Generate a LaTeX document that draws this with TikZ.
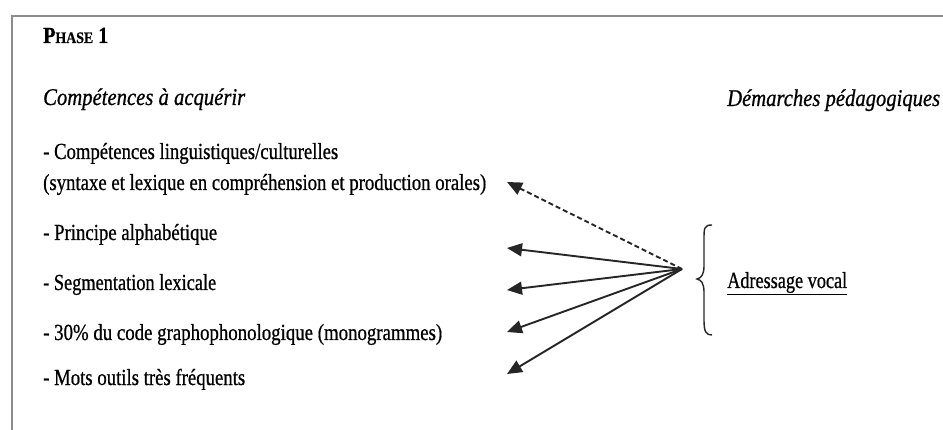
\documentclass[tikz,border=0pt]{standalone}
\usepackage{fontspec}
\usepackage{graphicx}
\setmainfont{Liberation Serif}[FakeBold=0.8]
\usetikzlibrary{arrows.meta}
\newcommand\fitw[2]{\resizebox{#1pt}{\height}{#2}}
\tikzset{
  txt/.style={anchor=base west, inner sep=0pt, font=\fontsize{23}{26}\selectfont},
  itxt/.style={txt, font=\fontsize{24}{28}\selectfont\itshape},
  arr/.style={-{Triangle[length=15pt,width=13pt]}, line width=1.9pt, black!85},
  frame/.style={draw=black!45, line width=1.8pt}
}
\begin{document}
\begin{tikzpicture}[x=1pt,y=-1pt]
\useasboundingbox (0,0) rectangle (943,430);
\draw[frame] (12,431) -- (12,16) -- (944,16);
\node[txt, font=\fontsize{23}{26}\selectfont\bfseries] (phase) at (43,43) {\fitw{65}{P{\fontsize{16}{18}\selectfont HASE} 1}};
\node[itxt] (comp) at (43,105) {\fitw{202}{Compétences à acquérir}};
\node[itxt] (dem) at (727,106) {\fitw{213}{Démarches pédagogiques}};
\node[txt] (l1) at (43,159) {\fitw{295}{- Compétences linguistiques/culturelles}};
\node[txt] (l1b) at (43,190) {\fitw{443}{(syntaxe et lexique en compréhension et production orales)}};
\node[txt] (l2) at (43,240) {\fitw{174}{- Principe alphabétique}};
\node[txt] (l3) at (43,290) {\fitw{173}{- Segmentation lexicale}};
\node[txt] (l4) at (43,340) {\fitw{399}{- 30\% du code graphophonologique (monogrammes)}};
\node[txt] (l5) at (43,385) {\fitw{202}{- Mots outils très fréquents}};
\coordinate (hub) at (682,269);
\coordinate (t0) at (507,182);
\coordinate (t1) at (507,248);
\coordinate (t2) at (507,290);
\coordinate (t3) at (507,332);
\coordinate (t4) at (507,374);
\draw[arr, dash pattern=on 5pt off 3pt] (hub) -- (t0);
\draw[arr] (hub) -- (t1);
\draw[arr] (hub) -- (t2);
\draw[arr] (hub) -- (t3);
\draw[arr] (hub) -- (t4);
\draw[line width=1.4pt, black!85] (712,225) .. controls (704,225) and (704,228) .. (704,240) -- (704,266) .. controls (704,275) and (701,278) .. (697,279) .. controls (701,280) and (704,283) .. (704,292) -- (704,320) .. controls (704,332) and (706,335) .. (712,335);
\node[txt] (adr) at (727,288) {\underline{\fitw{120}{Adressage vocal}}};
\end{tikzpicture}
\end{document}
